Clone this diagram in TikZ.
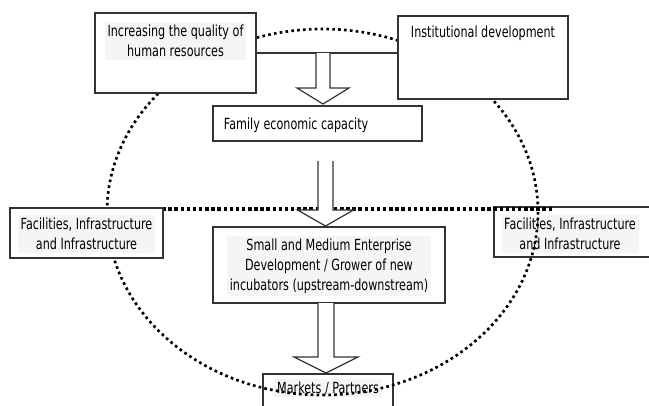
\documentclass[tikz,border=0pt]{standalone}
\usepackage{fontspec}
\setmainfont{DejaVu Sans}[FakeStretch=0.73]
\usetikzlibrary{fit,positioning}

\tikzset{
  box/.style={draw=black!80, line width=0.9pt, fill=white, inner sep=0pt},
  plain/.style={align=center, inner sep=2pt, font=\fontsize{11.5}{15}\selectfont},
  lbl/.style={plain, fill=black!4},
  ring/.style={line width=2pt, dash pattern=on 2pt off 2.4pt},
  bar/.style={line width=2.8pt, dash pattern=on 2.6pt off 2pt},
  blkarr/.style={draw=black!80, line width=0.9pt, fill=white}
}
% block arrow: x, top, tip, shaft half width, head half width
\newcommand{\blkarrow}[5]{%
  \draw[blkarr] (#1-#4,#2) -- (#1-#4,#3-16) -- (#1-#5,#3-16) -- (#1,#3)
    -- (#1+#5,#3-16) -- (#1+#4,#3-16) -- (#1+#4,#2);}

\begin{document}
\begin{tikzpicture}[x=0.75pt,y=-0.75pt]
  \useasboundingbox (0,0) rectangle (649,405);
  % boxes that the ring runs over
  \node[box, fit={(494,207) (656,257)}] (facR) {};
  \node[lbl] (facRtxt) at (570,234) {Facilities, Infrastructure\\and Infrastructure};
  \node[box, fit={(263,374) (393,420)}] (market) {};
  \node[lbl] (markettxt) at (328,388) {Markets / Partners};
  % dotted ring and bar
  \draw[ring] (322.5,212) ellipse [x radius=215.5, y radius=183];
  \coordinate (barL) at (107,209);
  \coordinate (barR) at (552,209);
  \draw[bar] (barL) -- (barR);
  % top row
  \node[box, fit={(95,13) (256,93)}] (hr) {};
  \node[lbl] (hrtxt) at (175.5,41) {Increasing the quality of\\human resources};
  \node[box, fit={(398,16) (568,99)}] (inst) {};
  \node[plain] (insttxt) at (483,33) {Institutional development};
  \draw[blkarr] (hr.east) -- (hr.east -| inst.west);
  % middle
  \node[box, fit={(213,106) (422,141)}] (family) {};
  \node[plain, anchor=west] (familytxt) at (221,125) {Family economic capacity};
  \node[box, fit={(10,208) (163,258)}] (facL) {};
  \node[lbl] (facLtxt) at (86.5,234) {Facilities, Infrastructure\\and Infrastructure};
  \node[box, fit={(213,227) (445,303)}] (sme) {};
  \node[lbl] (smetxt) at (329,266) {Small and Medium Enterprise\\Development / Grower of new\\incubators (upstream-downstream)};
  % block arrows
  \blkarrow{323}{53}{104}{7}{26}
  \blkarrow{325.5}{161}{226}{7.5}{28}
  \blkarrow{326}{303}{373}{8}{32}
\end{tikzpicture}
\end{document}
